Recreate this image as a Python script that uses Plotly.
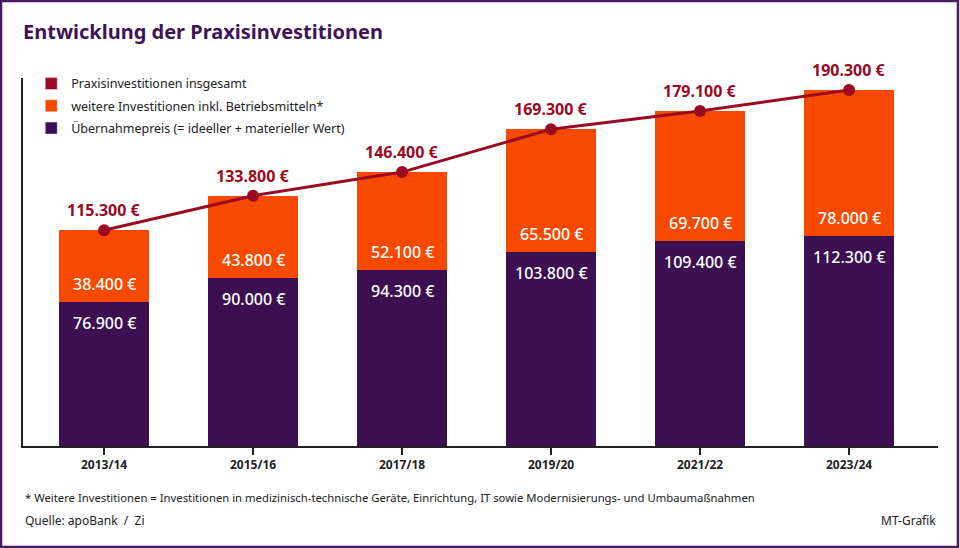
import plotly.graph_objects as go

# Daten
jahre = ['2013/14', '2015/16', '2017/18', '2019/20', '2021/22', '2023/24']
uebernahmepreis = [76900, 90000, 94300, 103800, 109400, 112300]
weitere_investitionen = [38400, 43800, 52100, 65500, 69700, 78000]
insgesamt = [115300, 133800, 146400, 169300, 179100, 190300]

namen = ['Praxisinvestitionen insgesamt',
         'weitere Investitionen inkl. Betriebsmitteln*',
         'Übernahmepreis (= ideeller + materieller Wert)']

LILA = '#3b0f50'
ORANGE = '#f74a00'
ROT = '#9a0b23'
FONT = 'Noto Sans'


def euro(v):
    return f'{v:,}'.replace(',', '.') + ' €'


fig = go.Figure()

fig.add_trace(go.Bar(x=jahre, y=uebernahmepreis, marker_color=LILA, marker_line_width=0,
                     width=0.604, showlegend=False, hoverinfo='skip'))
fig.add_trace(go.Bar(x=jahre, y=weitere_investitionen, marker_color=ORANGE, marker_line_width=0,
                     width=0.604, showlegend=False, hoverinfo='skip'))
fig.add_trace(go.Scatter(x=jahre, y=insgesamt, mode='lines+markers',
                         line=dict(color=ROT, width=3), marker=dict(color=ROT, size=12),
                         showlegend=False, hoverinfo='skip'))

# Legende mit quadratischen Symbolen
for i, (name, farbe) in enumerate(zip(namen, [ROT, ORANGE, LILA])):
    fig.add_trace(go.Bar(x=[None], y=[None], name=name, marker_color=farbe,
                         legendgroup=f'g{i}', legendrank=i + 1))

# Beschriftungen
for j, p, w, t in zip(jahre, uebernahmepreis, weitere_investitionen, insgesamt):
    fig.add_annotation(x=j, y=t, text=euro(t), showarrow=False, yshift=20,
                       font=dict(family=FONT, size=16, color=ROT, weight='bold'))
    fig.add_annotation(x=j, y=p, text=euro(p), showarrow=False, yshift=-21,
                       font=dict(family=FONT, size=16, color='white', weight=500))
    fig.add_annotation(x=j, y=p, text=euro(w), showarrow=False, yshift=18,
                       font=dict(family=FONT, size=16, color='white', weight=500))

fig.add_annotation(x=0, y=-0.1386, xref='paper', yref='paper', xanchor='left', yanchor='middle',
                   showarrow=False, align='left',
                   text='* Weitere Investitionen = Investitionen in medizinisch-technische Geräte, '
                        'Einrichtung, IT sowie Modernisierungs- und Umbaumaßnahmen',
                   font=dict(family=FONT, size=11.3, color='#222'))
fig.add_annotation(x=0, y=-0.2038, xref='paper', yref='paper', xanchor='left', yanchor='middle',
                   showarrow=False, text='Quelle: apoBank  /  Zi',
                   font=dict(family=FONT, size=12, color='#222'))
fig.add_annotation(x=1, y=-0.2038, xref='paper', yref='paper', xanchor='right', yanchor='middle',
                   showarrow=False, text='MT-Grafik',
                   font=dict(family=FONT, size=12, color='#222'))

# Rahmen
fig.add_shape(type='rect', xref='paper', yref='paper',
              x0=-0.0240, x1=1.0218, y0=-0.2745, y1=1.2092,
              line=dict(color='#4a1a62', width=2.5), layer='above')

fig.update_layout(
    width=960, height=548,
    barmode='stack',
    bargap=0.4,
    plot_bgcolor='white', paper_bgcolor='white',
    margin=dict(l=23, r=22, t=78, b=102),
    title=dict(text='<b>Entwicklung der Praxisinvestitionen</b>', xref='container', yref='container',
               x=23 / 960, y=1 - 32 / 548, xanchor='left', yanchor='middle',
               font=dict(family=FONT, size=20, color='#3e1358')),
    legend=dict(x=0.009, y=1.0245, xanchor='left', yanchor='top', bgcolor='rgba(0,0,0,0)',
                font=dict(family=FONT, size=12.5, color='#222'), itemwidth=30,
                tracegroupgap=3, traceorder='grouped', itemclick=False),
    font=dict(family=FONT),
    showlegend=True,
)
fig.update_xaxes(range=[-0.544, 5.597], showline=True, linecolor='#222', linewidth=1.5,
                 ticks='outside', ticklen=7, tickcolor='#222', tickwidth=1.5,
                 tickfont=dict(family=FONT, size=12, color='#222', weight='bold'), showgrid=False)
fig.update_yaxes(range=[0, 196700], showline=True, linecolor='#222', linewidth=1.5,
                 showticklabels=False, ticks='', showgrid=False, zeroline=False)

fig.write_html('out.html', config={'displayModeBar': False},
               post_script="document.body.style.margin='0';")
